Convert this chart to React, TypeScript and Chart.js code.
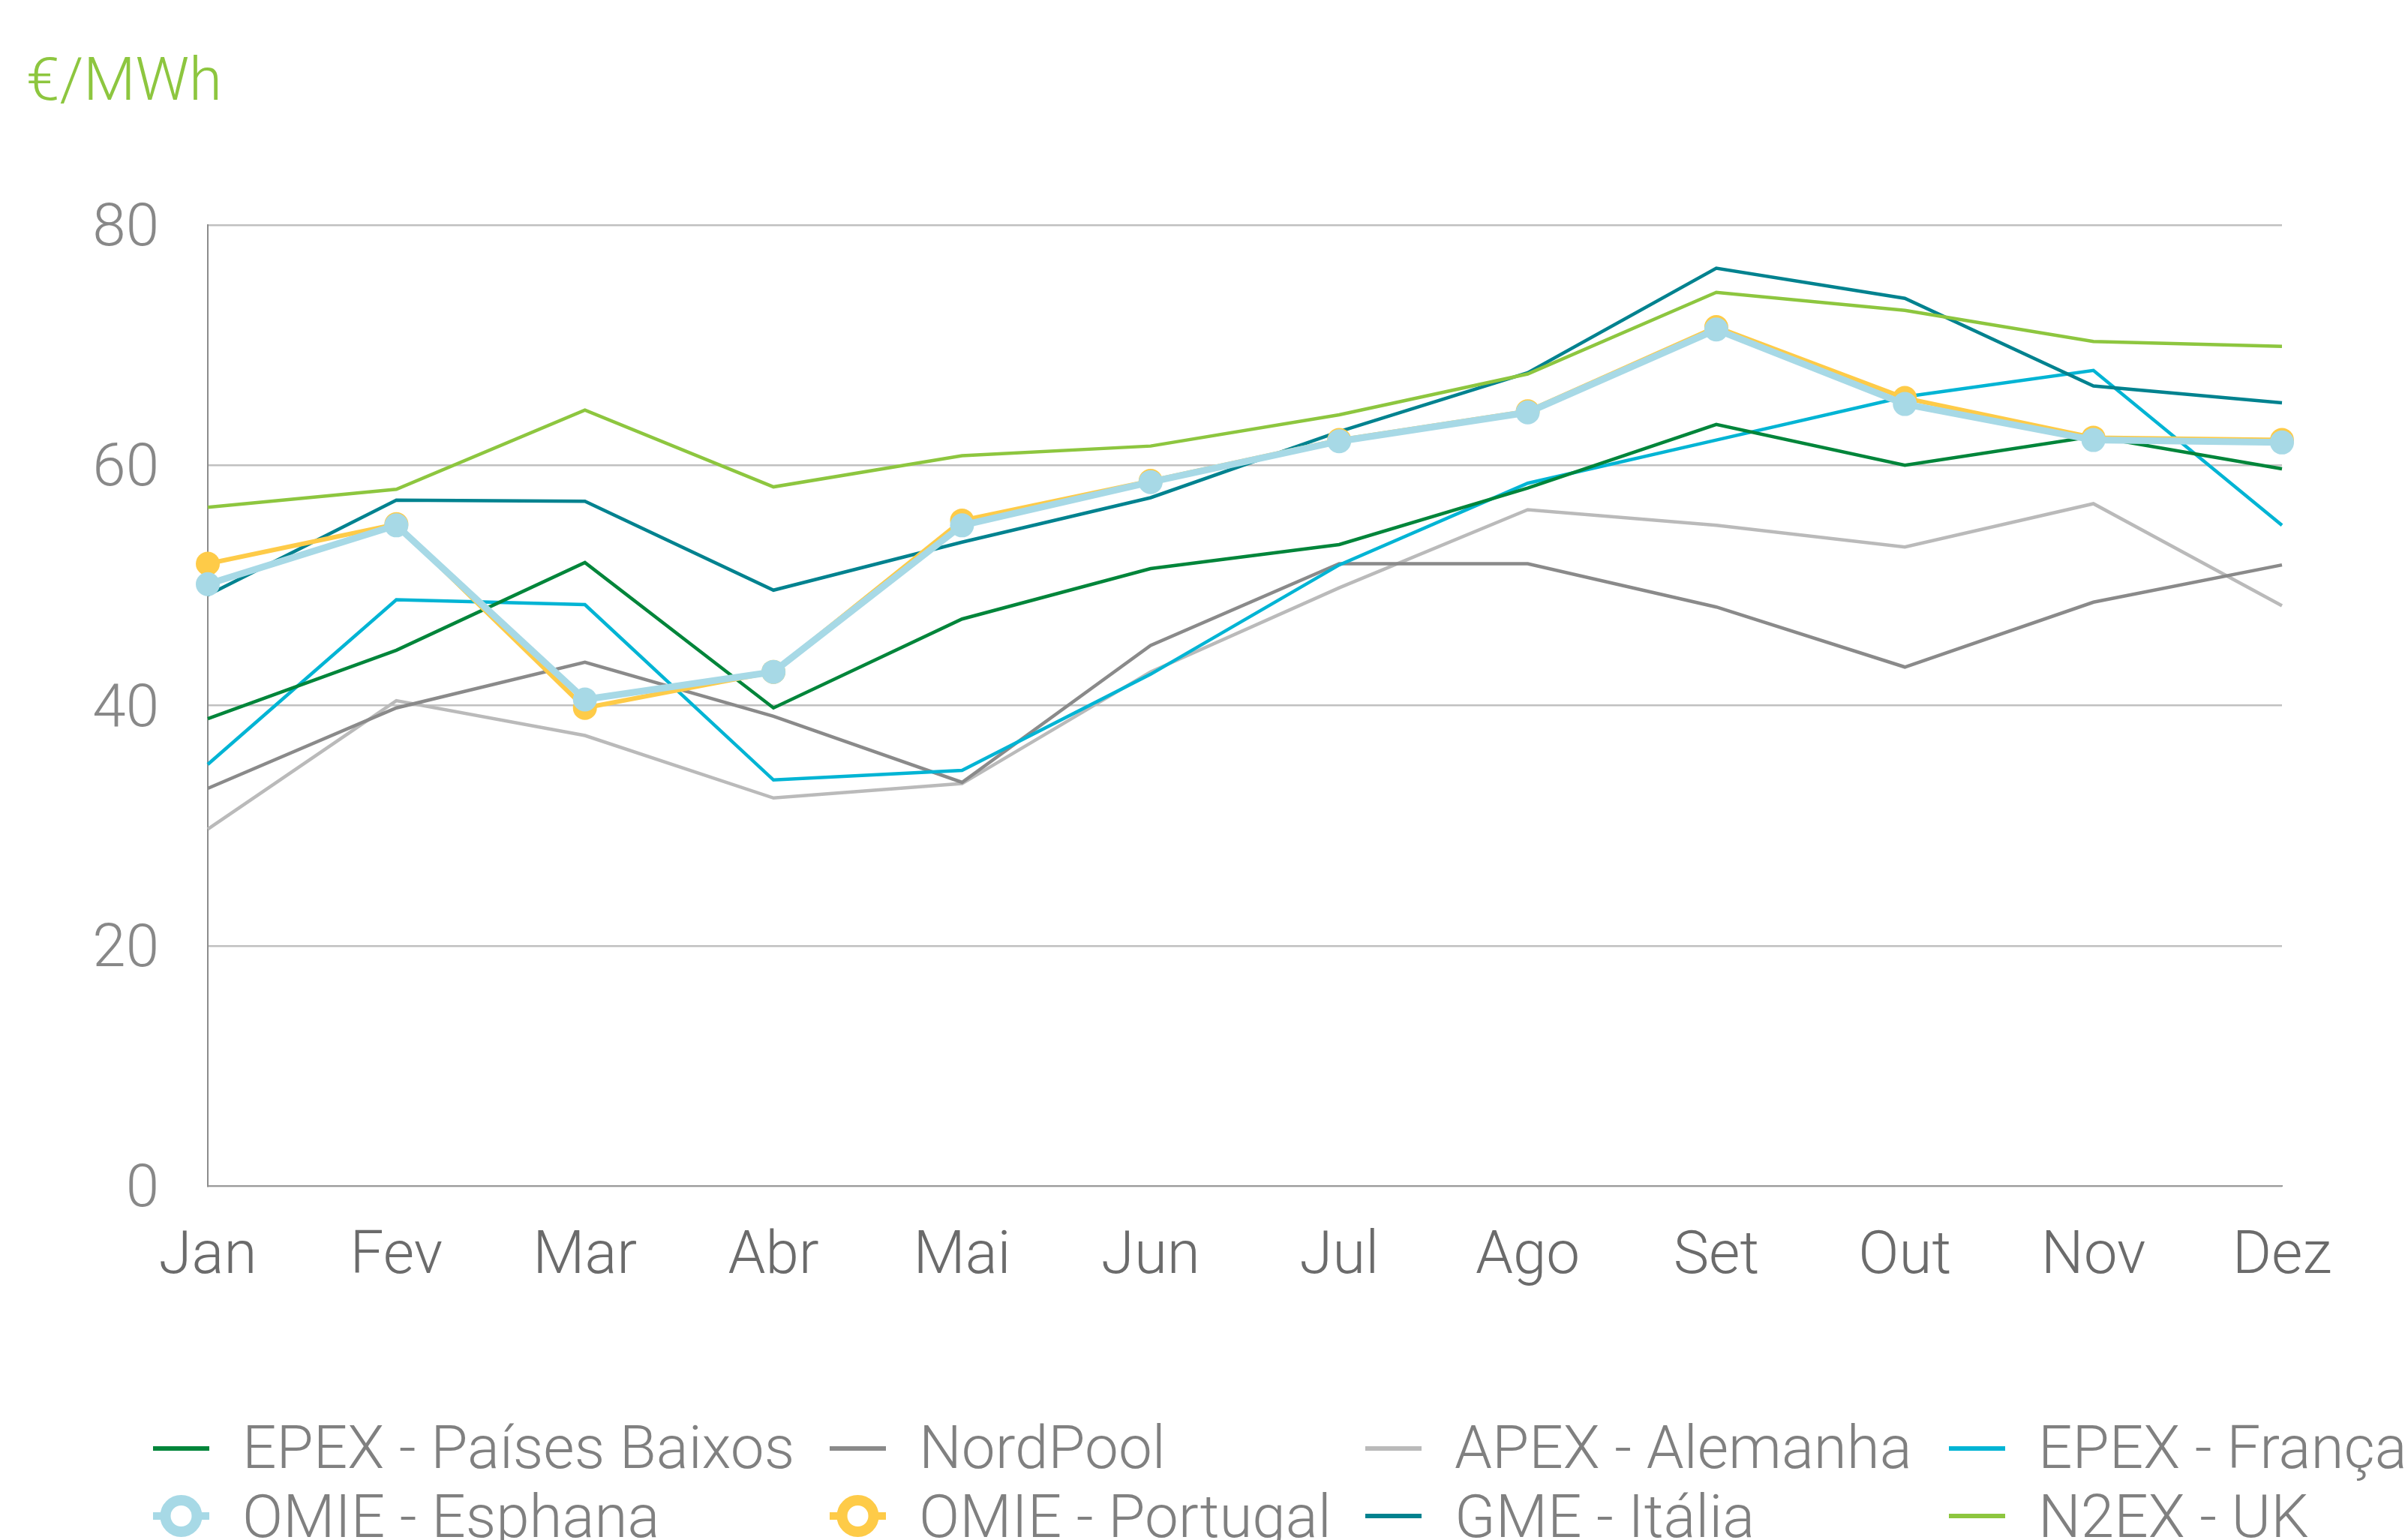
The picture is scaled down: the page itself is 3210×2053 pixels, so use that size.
import React, { useEffect, useRef } from "react";
import { Chart, registerables } from "chart.js";

Chart.register(...registerables);

const months = ["Jan", "Fev", "Mar", "Abr", "Mai", "Jun", "Jul", "Ago", "Set", "Out", "Nov", "Dez"];

const epexNL = [38.9, 44.6, 51.9, 39.8, 47.2, 51.4, 53.4, 58.1, 63.4, 60.0, 62.4, 59.7];
const nordPool = [33.1, 39.8, 43.6, 39.1, 33.6, 45.0, 51.8, 51.8, 48.2, 43.2, 48.6, 51.7];
const apexDE = [29.7, 40.4, 37.5, 32.3, 33.5, 42.8, 49.8, 56.3, 55.0, 53.2, 56.8, 48.3];
const epexFR = [35.1, 48.8, 48.4, 33.8, 34.6, 42.6, 51.7, 58.5, 62.1, 65.7, 67.9, 55.0];
const omieES = [50.1, 55.0, 40.5, 42.8, 55.0, 58.6, 62.0, 64.4, 71.3, 65.1, 62.1, 61.9];
const omiePT = [51.8, 55.1, 39.8, 42.8, 55.4, 58.7, 62.1, 64.5, 71.5, 65.6, 62.3, 62.1];
const gmeIT = [49.2, 57.1, 57.0, 49.6, 53.6, 57.3, 62.8, 67.7, 76.4, 73.9, 66.6, 65.2];
const n2exUK = [56.5, 58.0, 64.6, 58.2, 60.8, 61.6, 64.2, 67.6, 74.4, 72.9, 70.3, 69.9];

const yTicks = [0, 20, 40, 60, 80];
const unitLabel = "€/MWh";

const FONT = "Roboto";

const legendPlugin = {
  id: "customLegend",
  afterDraw(chart: any) {
    const ctx = chart.ctx;
    const cols = [204, 1106, 1820, 2598];
    const rows = [1931, 2021];
    const baselines = [1957, 2049];
    const markerLen = 75;
    ctx.save();
    // title
    ctx.font = `300 80px ${FONT}`;
    ctx.fillStyle = "#8dc63f";
    ctx.textAlign = "left";
    ctx.textBaseline = "alphabetic";
    ctx.fillText(unitLabel, 35, 133);

    chart.data.datasets.forEach((ds: any, i: number) => {
      const col = i % 4;
      const row = Math.floor(i / 4);
      const x = cols[col];
      const y = rows[row];
      ctx.strokeStyle = ds.borderColor;
      if (ds.pointRadius > 0) {
        ctx.lineWidth = 10;
        ctx.beginPath();
        ctx.moveTo(x, y);
        ctx.lineTo(x + markerLen, y);
        ctx.stroke();
        ctx.beginPath();
        ctx.arc(x + markerLen / 2, y, 21, 0, Math.PI * 2);
        ctx.fillStyle = "#ffffff";
        ctx.fill();
        ctx.lineWidth = 14;
        ctx.stroke();
      } else {
        ctx.lineWidth = 6;
        ctx.beginPath();
        ctx.moveTo(x, y);
        ctx.lineTo(x + markerLen, y);
        ctx.stroke();
      }
      ctx.font = `300 80px ${FONT}`;
      ctx.fillStyle = "#808080";
      ctx.textAlign = "left";
      ctx.textBaseline = "alphabetic";
      ctx.fillText(ds.label, x + 119, baselines[row]);
    });
    ctx.restore();
  },
};

export default function App() {
  const canvasRef = useRef<HTMLCanvasElement | null>(null);

  useEffect(() => {
    document.body.style.margin = "0";
    document.body.style.overflow = "hidden";
    let chart: Chart | null = null;
    let cancelled = false;

    const make = () => {
      if (cancelled || !canvasRef.current) return;
      const line = (label: string, data: number[], color: string, width: number, order: number, radius = 0) => ({
        label,
        data,
        borderColor: color,
        backgroundColor: color,
        borderWidth: width,
        pointRadius: radius,
        pointHoverRadius: radius,
        pointBackgroundColor: color,
        pointBorderWidth: 0,
        tension: 0,
        fill: false,
        order,
      });
      chart = new Chart(canvasRef.current, {
        type: "line",
        data: {
          labels: months,
          datasets: [
            line("EPEX - Países Baixos", epexNL, "#00853a", 4.5, 4),
            line("NordPool", nordPool, "#8a8a8a", 4.5, 6),
            line("APEX - Alemanha", apexDE, "#bababa", 4.5, 7),
            line("EPEX - França", epexFR, "#00b4d4", 4.5, 5),
            line("OMIE - Esphana", omieES, "#a7d9e6", 9, 0, 16),
            line("OMIE - Portugal", omiePT, "#fecb48", 6, 1, 16),
            line("GME - Itália", gmeIT, "#00828f", 4.5, 3),
            line("N2EX - UK", n2exUK, "#8dc63f", 4.5, 2),
          ],
        },
        options: {
          responsive: false,
          animation: false,
          devicePixelRatio: 1,
          layout: { padding: { left: 0, top: 300, right: 168, bottom: 272 } },
          plugins: {
            legend: { display: false },
            title: { display: false },
            tooltip: { enabled: false },
          },
          scales: {
            x: {
              offset: false,
              afterFit: (s: any) => {
                s.height = 200;
              },
              grid: { display: false, drawTicks: false },
              border: { display: true, color: "#9a9a9a", width: 2 },
              ticks: {
                color: "#6b6b6b",
                padding: 48,
                font: { family: FONT, size: 80, weight: "300" as any },
                maxRotation: 0,
                autoSkip: false,
              },
            },
            y: {
              min: 0,
              max: 80,
              afterFit: (s: any) => {
                s.width = 277;
              },
              afterBuildTicks: (s: any) => {
                s.ticks = yTicks.map((v) => ({ value: v }));
              },
              grid: { color: "#c0c0c0", lineWidth: 2.5, drawTicks: false },
              border: { display: true, color: "#8c8c8c", width: 2 },
              ticks: {
                color: "#888888",
                padding: 65,
                labelOffset: 7,
                font: { family: FONT, size: 80, weight: "300" as any },
              },
            },
          },
        },
        plugins: [legendPlugin],
      });
    };

    const fontsReady = (document as any).fonts
      ? Promise.all([
          (document as any).fonts.load(`300 80px ${FONT}`, unitLabel),
          (document as any).fonts.load(`80px ${FONT}`, unitLabel),
        ]).catch(() => null)
      : Promise.resolve(null);
    fontsReady.then(make);

    return () => {
      cancelled = true;
      if (chart) chart.destroy();
    };
  }, []);

  return (
    <div style={{ width: 3210, height: 2053, position: "relative" }}>
      <canvas ref={canvasRef} width={3210} height={2053} style={{ display: "block", width: 3210, height: 2053 }} />
    </div>
  );
}
